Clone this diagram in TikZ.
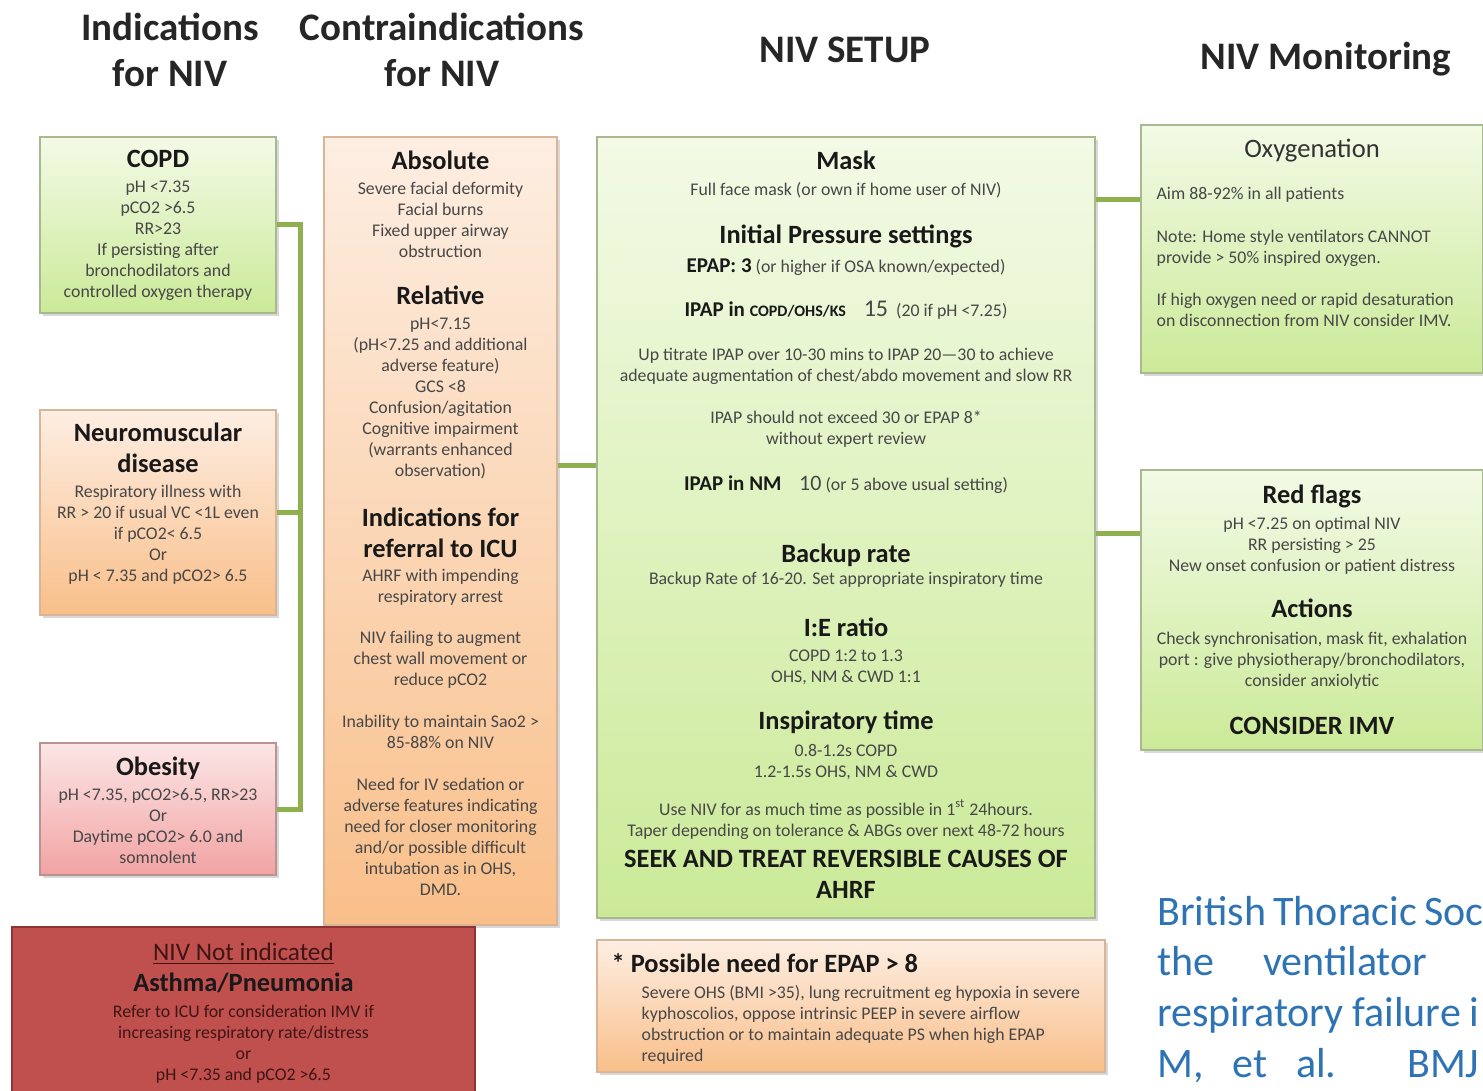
\documentclass[tikz,border=0pt]{standalone}
\usepackage{fontspec}
\setmainfont{Carlito}
\usepackage{xcolor}
\usepackage{tikz}
\usetikzlibrary{positioning, shadows}

\definecolor{greentop}{HTML}{F3FAE6}
\definecolor{greenbot}{HTML}{CBEA98}
\definecolor{greenline}{HTML}{A9B98F}
\definecolor{peachtop}{HTML}{FDEEE2}
\definecolor{peachbot}{HTML}{F9BF8A}
\definecolor{peachline}{HTML}{D8B596}
\definecolor{pinktop}{HTML}{FCE6E6}
\definecolor{pinkbot}{HTML}{F2A3A3}
\definecolor{pinkline}{HTML}{B99393}
\definecolor{redfill}{HTML}{C0504D}
\definecolor{redline}{HTML}{8E3533}
\definecolor{redtext}{HTML}{3E1514}
\definecolor{linkgreen}{HTML}{8FB04E}
\definecolor{citeblue}{HTML}{2E74B5}

\newcommand{\hd}[1]{{\fontsize{13.2}{15.5}\selectfont\bfseries\color{black!90}#1}}
\newcommand{\subhd}[1]{{\fontsize{10.5}{12}\selectfont\bfseries\color{black!90}#1}}

\begin{document}
\begin{tikzpicture}[
        x=0.5pt, y=-0.5pt,
        every node/.style={
            inner sep=0pt,
            align=center
        },
        txt/.style={
            font={\fontsize{8.9}{10.5}\selectfont\lineskiplimit=-20pt},
            text=black!72
        },
        colhead/.style={
            font={\fontsize{19.5}{23}\selectfont\bfseries\lineskiplimit=-20pt},
            text=black!85
        },
        cite/.style={
            font={\fontsize{21}{25.5}\selectfont},
            text=citeblue,
            anchor=base west
        },
        panel/.style={
            rectangle,
            draw=#1line,
            top color=#1top,
            bottom color=#1bot,
            line width=0.75pt,
            drop shadow={shadow xshift=1.5pt, shadow yshift=-1.5pt, opacity=0.3}
        },
        redpanel/.style={
            rectangle,
            draw=redline,
            fill=redfill,
            line width=0.9pt
        },
        link/.style={
            draw=linkgreen,
            line width=2.5pt
        }
    ]

    \fill[white] (0,0) rectangle (1483,1091);
    \useasboundingbox (0,0) rectangle (1483,1091);
    \clip (0,0) rectangle (1483,1091);

    % Column headings

    \node[colhead] (indhead) at (170,50) {Indications\\for NIV};
    \node[colhead] (contrahead) at (442,50) {Contraindications\\for NIV};
    \node[colhead] (setuphead) at (845,50) {NIV SETUP};
    \node[colhead] (monhead) at (1326,59) {NIV Monitoring};

    % Boxes

    \node[panel=green, minimum width=118pt, minimum height=88pt] (copd) at (158,225) {};
    \node[panel=peach, minimum width=118pt, minimum height=102.5pt] (neuro) at (158,512.5) {};
    \node[panel=pink, minimum width=118pt, minimum height=66pt] (obesity) at (158,809) {};
    \node[panel=peach, minimum width=116.5pt, minimum height=394pt] (contra) at (440.5,531) {};
    \node[panel=green, minimum width=249pt, minimum height=390.5pt] (setup) at (846,527.5) {};
    \node[panel=green, minimum width=171pt, minimum height=124pt] (oxygen) at (1312,249) {};
    \node[panel=green, minimum width=171pt, minimum height=140pt] (redflags) at (1312,610) {};
    \node[redpanel, minimum width=231.5pt, minimum height=86.5pt] (notind) at (243.5,1013.5) {};
    \node[panel=peach, minimum width=254pt, minimum height=66pt] (epap) at (851,1006) {};

    % Indications

    \node[txt, below=7pt of copd.north] (copdtext)
    {\hd{COPD}\\[2pt]
    pH <7.35\\
    pCO2 >6.5\\
    RR>23\\
    If persisting after\\
    bronchodilators and\\
    controlled oxygen therapy};

    \node[txt, below=6.5pt of neuro.north] (neurotext)
    {\hd{Neuromuscular}\\[5pt]
    \hd{disease}\\[2pt]
    Respiratory illness with\\
    RR > 20 if usual VC <1L even\\
    if pCO2< 6.5\\
    Or\\
    pH < 7.35 and pCO2> 6.5};

    \node[txt, below=7pt of obesity.north] (obesitytext)
    {\hd{Obesity}\\[2pt]
    pH <7.35, pCO2>6.5, RR>23\\
    Or\\
    Daytime pCO2> 6.0 and\\
    somnolent};

    % Contraindications

    \node[txt, below=7pt of contra.north] (contratext)
    {\hd{Absolute}\\[2pt]
    Severe facial deformity\\
    Facial burns\\
    Fixed upper airway\\
    obstruction\\[13pt]
    \hd{Relative}\\[2pt]
    pH<7.15\\
    (pH<7.25 and additional\\
    adverse feature)\\
    GCS <8\\
    Confusion/agitation\\
    Cognitive impairment\\
    (warrants enhanced\\
    observation)\\[14.5pt]
    \hd{Indications for}\\[5pt]
    \hd{referral to ICU}\\[1.5pt]
    AHRF with impending\\
    respiratory arrest\\[10pt]
    NIV failing to augment\\
    chest wall movement or\\
    reduce pCO2\\[10.5pt]
    Inability to maintain Sao2 >\\
    85-88\% on NIV\\[10.5pt]
    Need for IV sedation or\\
    adverse features indicating\\
    need for closer monitoring\\
    and/or possible difficult\\
    intubation as in OHS,\\
    DMD.};

    % Setup

    \node[txt, below=7pt of setup.north] (setuptext)
    {\hd{Mask}\\[2.5pt]
    Full face mask (or own if home user of NIV)\\[13.5pt]
    \hd{Initial Pressure settings}\\[4pt]
    \subhd{EPAP: 3} (or higher if OSA known/expected)\\[11.5pt]
    \subhd{IPAP in {\fontsize{8}{10}\selectfont COPD/OHS/KS}}\quad{\fontsize{12}{14}\selectfont 15}\ \ (20 if pH <7.25)\\[11.5pt]
    Up titrate IPAP over 10-30 mins to IPAP 20—30 to achieve\\
    adequate augmentation of chest/abdo movement and slow RR\\[10.5pt]
    IPAP should not exceed 30 or EPAP 8*\\
    without expert review\\[12.5pt]
    \subhd{IPAP in NM}\quad{\fontsize{11}{13}\selectfont 10} (or 5 above usual setting)\\[25.5pt]
    \hd{Backup rate}\\[0.5pt]
    Backup Rate of 16-20. Set appropriate inspiratory time\\[15.5pt]
    \hd{I:E ratio}\\[2pt]
    COPD 1:2 to 1.3\\
    OHS, NM \& CWD 1:1\\[13pt]
    \hd{Inspiratory time}\\[3pt]
    0.8-1.2s COPD\\
    1.2-1.5s OHS, NM \& CWD\\[8.5pt]
    Use NIV for as much time as possible in 1\textsuperscript{st} 24hours.\\
    Taper depending on tolerance \& ABGs over next 48-72 hours\\[5pt]
    \hd{SEEK AND TREAT REVERSIBLE CAUSES OF}\\[5pt]
    \hd{AHRF}};

    % Monitoring

    \node[below=7pt of oxygen.north, font=\fontsize{13.3}{15}\selectfont, text=black!80]
    (oxyhead) {Oxygenation};

    \node[txt, align=left, below right=31pt and 8pt of oxygen.north west] (oxytext)
    {Aim 88-92\% in all patients\\[11pt]
    Note: Home style ventilators CANNOT\\
    provide > 50\% inspired oxygen.\\[10.5pt]
    If high oxygen need or rapid desaturation\\
    on disconnection from NIV consider IMV.};

    \node[txt, below=7.5pt of redflags.north] (flagtext)
    {\hd{Red flags}\\[2.5pt]
    pH <7.25 on optimal NIV\\
    RR persisting > 25\\
    New onset confusion or patient distress\\[12.5pt]
    \hd{Actions}\\[3pt]
    Check synchronisation, mask fit, exhalation\\
    port : give physiotherapy/bronchodilators,\\
    consider anxiolytic\\[13.5pt]
    \hd{CONSIDER IMV}};

    % Bottom boxes

    \node[txt, text=redtext, below=8pt of notind.north] (notindtext)
    {{\fontsize{12.6}{15}\selectfont\underline{NIV Not indicated}}\\[5pt]
    \hd{Asthma/Pneumonia}\\[2.5pt]
    Refer to ICU for consideration IMV if\\
    increasing respiratory rate/distress\\
    or\\
    pH <7.35 and pCO2 >6.5};

    \node[txt, align=left, below right=7pt and 7.5pt of epap.north west] (epaptext)
    {\hd{* Possible need for EPAP > 8}\\[2.5pt]
    \hspace*{15pt}Severe OHS (BMI >35), lung recruitment eg hypoxia in severe\\
    \hspace*{15pt}kyphoscolios, oppose intrinsic PEEP in severe airflow\\
    \hspace*{15pt}obstruction or to maintain adequate PS when high EPAP\\
    \hspace*{15pt}required};

    % Reference

    \node[cite] (cite1) at (1157,925) {\makebox[163pt][s]{British Thoracic Soc}};
    \node[cite] (cite2) at (1157,975) {\makebox[135pt][s]{the ventilator}};
    \node[cite] (cite3) at (1157,1026) {\makebox[161pt][s]{respiratory failure i}};
    \node[cite] (cite4) at (1157,1077) {\makebox[161pt][s]{M, et al. BMJ}};

    % Connectors

    \draw[link] (copd.east) -- ++(24,0) |- (obesity.east);
    \draw[link] (neuro.east) -- ++(24,0);

    \coordinate (contraout) at ([yshift=33pt]contra.east);
    \coordinate (oxyin) at ([yshift=24.5pt]oxygen.west);
    \coordinate (flagin) at ([yshift=38.5pt]redflags.west);

    \draw[link] (contraout) -- (contraout -| setup.west);
    \draw[link] (oxyin -| setup.east) -- (oxyin);
    \draw[link] (flagin -| setup.east) -- (flagin);

\end{tikzpicture}
\end{document}
